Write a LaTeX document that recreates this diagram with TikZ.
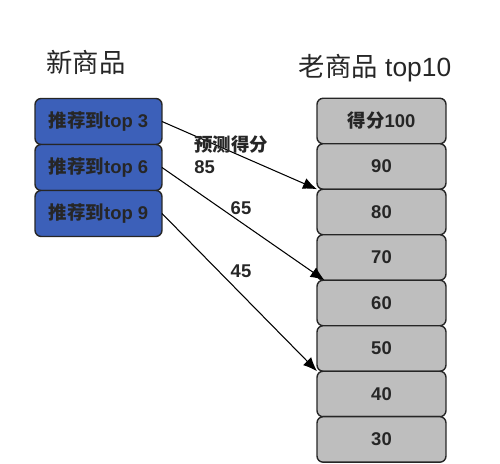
\documentclass[tikz,border=0pt]{standalone}
\usepackage{fontspec}
\setmainfont{Liberation Sans}
\newfontfamily\cjk{Noto Sans CJK SC}
\usetikzlibrary{positioning,arrows.meta}
\definecolor{newblue}{RGB}{60,96,185}
\definecolor{oldgray}{RGB}{190,190,190}
\begin{document}
\begin{tikzpicture}[
        x=0.02cm,
        y=-0.02cm,
        line join=round,
        % 方框样式
        newbox/.style={draw=black!85,line width=0.8pt,fill=newblue,rounded corners=3.5pt,outer sep=0pt,
            minimum width=2.54cm,minimum height=0.92cm,font=\bfseries\fontsize{10.5}{12}\selectfont,text=black!85},
        oldbox/.style={draw=black!85,line width=0.8pt,fill=oldgray,rounded corners=3.5pt,outer sep=0pt,
            minimum width=2.58cm,minimum height=0.91cm,font=\bfseries\fontsize{10.5}{12}\selectfont,text=black!85},
        title/.style={font=\fontsize{15}{17}\selectfont,text=black!85},
        score/.style={font=\bfseries\fontsize{10.5}{12.5}\selectfont,text=black!85},
        link/.style={-{Latex[length=8pt,width=6.5pt]},line width=0.6pt},
    ]
    \useasboundingbox (0,0) rectangle (500,463);

    % 标题
    \node[title] (tnew) at (86,62) {\cjk 新商品};
    \node[title] (told) at (375,68) {{\cjk 老商品} top10};

    % 新商品
    \node[newbox] (N3) at (98.5,121.5) {{\cjk 推荐到}top 3};
    \node[newbox,below=0pt of N3] (N6) {{\cjk 推荐到}top 6};
    \node[newbox,below=0pt of N6] (N9) {{\cjk 推荐到}top 9};

    % 老商品
    \node[oldbox] (S100) at (381.5,121) {{\cjk 得分}100};
    \node[oldbox,below=0pt of S100] (S90) {90};
    \node[oldbox,below=0pt of S90] (S80) {80};
    \node[oldbox,below=0pt of S80] (S70) {70};
    \node[oldbox,below=0pt of S70] (S60) {60};
    \node[oldbox,below=0pt of S60] (S50) {50};
    \node[oldbox,below=0pt of S50] (S40) {40};
    \node[oldbox,below=0pt of S40] (S30) {30};

    % 连线
    \draw[link] (N3.east) -- (S90.south west);
    \draw[link] (N6.east) -- ([xshift=0.15cm]S70.south west);
    \draw[link] (N9.east) -- (S50.south west);

    % 预测得分
    \node[score,align=left,anchor=west,inner sep=0pt] (p85) at (194,155) {{\cjk 预测得分}\\85};
    \node[score] (p65) at (241,208) {65};
    \node[score] (p45) at (241,271) {45};
\end{tikzpicture}
\end{document}
